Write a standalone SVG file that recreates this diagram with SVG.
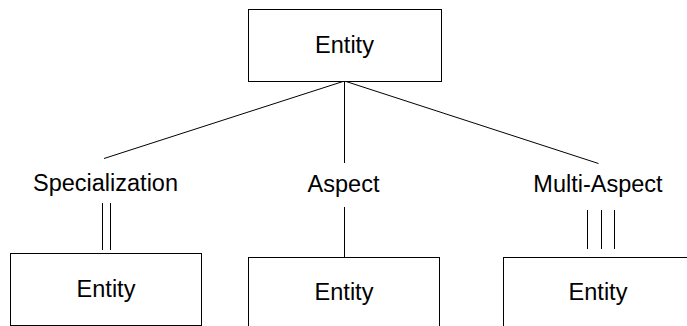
<svg xmlns="http://www.w3.org/2000/svg" width="687" height="326" viewBox="0 0 687 326">
  <style>
    .box { fill: #ffffff; stroke: #000000; stroke-width: 1; }
    .lbl { font-family: "Liberation Sans", Arial, sans-serif; font-size: 23.5px; fill: #000000; text-anchor: middle; }
    .edge { stroke: #000000; stroke-width: 1; fill: none; }
  </style>
  <rect width="687" height="326" fill="#ffffff"/>

  <!-- connectors -->
  <g id="connectors">
    <line class="edge" x1="344.5" y1="81" x2="104" y2="158.5"/>
    <line class="edge" x1="344.5" y1="81" x2="344.5" y2="163"/>
    <line class="edge" x1="344.5" y1="81" x2="598.5" y2="163.5"/>
    <!-- specialization: double line -->
    <line class="edge" x1="102.5" y1="203" x2="102.5" y2="250"/>
    <line class="edge" x1="110.5" y1="203" x2="110.5" y2="250"/>
    <!-- aspect: single line -->
    <line class="edge" x1="344.5" y1="207" x2="344.5" y2="257"/>
    <!-- multi-aspect: triple line -->
    <line class="edge" x1="587.5" y1="210" x2="587.5" y2="249"/>
    <line class="edge" x1="601.5" y1="210" x2="601.5" y2="249"/>
    <line class="edge" x1="614.5" y1="210" x2="614.5" y2="249"/>
    <!-- relation labels -->
    <text class="lbl" x="105.5" y="191">Specialization</text>
    <text class="lbl" x="343.5" y="192">Aspect</text>
    <text class="lbl" x="598" y="192">Multi-Aspect</text>
  </g>

  <g id="entity-root">
    <rect class="box" x="248.5" y="9.5" width="193" height="72"/>
    <text class="lbl" x="344.5" y="53">Entity</text>
  </g>

  <g id="entity-specialization">
    <rect class="box" x="10.5" y="253.5" width="191" height="72"/>
    <text class="lbl" x="106" y="297">Entity</text>
  </g>

  <g id="entity-aspect">
    <rect class="box" x="248.5" y="257.5" width="191" height="72"/>
    <text class="lbl" x="344" y="300">Entity</text>
  </g>

  <g id="entity-multi-aspect">
    <rect class="box" x="503.5" y="257.5" width="191" height="72"/>
    <text class="lbl" x="598" y="300">Entity</text>
  </g>
</svg>
